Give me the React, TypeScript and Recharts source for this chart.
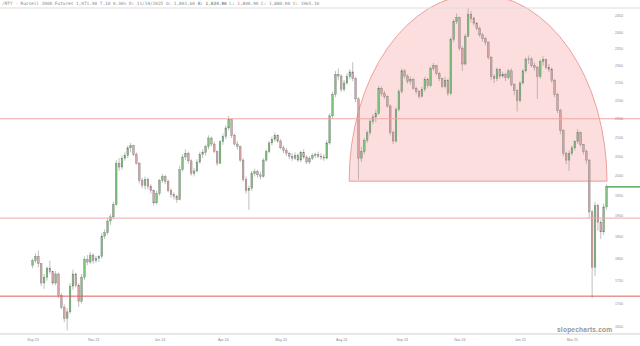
import React from "react";
import { ComposedChart, Bar, XAxis, YAxis, ReferenceLine, ReferenceArea } from "recharts";

// /RTY daily candles, sampled every other session (Sep 2023 - Apr 2025)
const opens = [
  1785, 1795, 1805, 1788, 1745, 1758, 1778, 1770, 1745, 1765,
  1718, 1692, 1668, 1682, 1738, 1765, 1740, 1705, 1758, 1798,
  1792, 1808, 1795, 1800, 1805, 1852, 1860, 1888, 1898, 1928,
  2032, 2022, 2045, 2052, 2072, 2078, 2055, 2032, 1988, 1975,
  1990, 1972, 1962, 1932, 1955, 1988, 1998, 1985, 1962, 1952,
  1948, 1940, 2015, 2048, 2058, 2038, 2005, 2012, 2035, 2055,
  2060, 2075, 2098, 2082, 2062, 2032, 2088, 2102, 2125, 2148,
  2105, 2082, 2075, 2040, 1990, 1962, 1968, 2005, 2010, 2002,
  1998, 2040, 2062, 2085, 2095, 2105, 2090, 2072, 2065, 2058,
  2050, 2045, 2052, 2040, 2060, 2048, 2035, 2045, 2052, 2055,
  2050, 2048, 2045, 2085, 2158, 2218, 2275, 2270, 2232, 2250,
  2268, 2282, 2262, 2205, 2045, 2062, 2092, 2112, 2142, 2155,
  2165, 2235, 2220, 2212, 2185, 2112, 2090, 2175, 2225, 2285,
  2270, 2255, 2260, 2235, 2225, 2212, 2232, 2260, 2242, 2292,
  2300, 2278, 2262, 2240, 2258, 2220, 2378, 2432, 2445, 2352,
  2305, 2388, 2455, 2442, 2428, 2412, 2392, 2380, 2370, 2325,
  2268, 2262, 2288, 2270, 2275, 2265, 2285, 2245, 2228, 2200,
  2250, 2285, 2318, 2320, 2300, 2295, 2268, 2312, 2318, 2295,
  2290, 2258, 2218, 2172, 2118, 2058, 2040, 2058, 2072, 2088,
  2112, 2080, 2062, 2040, 1910, 1780, 1925, 1885, 1862, 1922,
];
const highs = [
  1800, 1812, 1818, 1790, 1765, 1782, 1795, 1772, 1772, 1768,
  1722, 1698, 1690, 1745, 1775, 1768, 1745, 1765, 1805, 1808,
  1815, 1812, 1806, 1808, 1860, 1868, 1895, 1905, 1935, 2040,
  2045, 2052, 2060, 2078, 2085, 2080, 2060, 2035, 1995, 1998,
  1995, 1978, 1965, 1962, 1992, 2005, 2002, 1990, 1968, 1958,
  1952, 2025, 2055, 2068, 2062, 2042, 2020, 2042, 2062, 2068,
  2080, 2105, 2102, 2088, 2065, 2092, 2110, 2132, 2158, 2150,
  2110, 2090, 2078, 2045, 1998, 1975, 2012, 2018, 2015, 2010,
  2045, 2068, 2090, 2102, 2112, 2108, 2095, 2078, 2072, 2062,
  2058, 2060, 2058, 2065, 2068, 2052, 2050, 2058, 2060, 2062,
  2058, 2055, 2092, 2165, 2225, 2285, 2292, 2275, 2258, 2278,
  2290, 2310, 2268, 2210, 2075, 2098, 2118, 2148, 2162, 2175,
  2242, 2240, 2228, 2215, 2190, 2118, 2182, 2232, 2292, 2290,
  2275, 2268, 2265, 2240, 2230, 2240, 2268, 2265, 2298, 2308,
  2302, 2282, 2265, 2268, 2262, 2385, 2440, 2458, 2448, 2358,
  2395, 2475, 2465, 2448, 2432, 2418, 2398, 2385, 2372, 2328,
  2275, 2295, 2292, 2282, 2280, 2290, 2292, 2250, 2232, 2255,
  2290, 2325, 2330, 2325, 2310, 2300, 2318, 2328, 2320, 2305,
  2295, 2262, 2222, 2178, 2122, 2062, 2065, 2078, 2092, 2122,
  2115, 2082, 2068, 2042, 1915, 1935, 1930, 1892, 1930, 1978,
];
const lows = [
  1778, 1790, 1780, 1738, 1732, 1750, 1765, 1740, 1740, 1712,
  1688, 1660, 1643, 1678, 1730, 1735, 1693, 1700, 1752, 1785,
  1788, 1788, 1790, 1792, 1800, 1845, 1855, 1878, 1892, 1925,
  2012, 2015, 2038, 2045, 2060, 2050, 2028, 1980, 1968, 1965,
  1965, 1955, 1925, 1928, 1950, 1982, 1978, 1958, 1945, 1940,
  1932, 1938, 2010, 2040, 2030, 2000, 1998, 2008, 2030, 2045,
  2052, 2068, 2075, 2058, 2025, 2030, 2080, 2095, 2118, 2098,
  2078, 2068, 2035, 1985, 1955, 1915, 1962, 1998, 1995, 1990,
  1995, 2035, 2058, 2078, 2088, 2085, 2068, 2058, 2050, 2042,
  2038, 2040, 2035, 2035, 2042, 2030, 2030, 2040, 2045, 2045,
  2040, 2038, 2042, 2080, 2150, 2210, 2258, 2225, 2225, 2245,
  2260, 2255, 2195, 1990, 2035, 2055, 2085, 2105, 2135, 2140,
  2160, 2212, 2205, 2180, 2105, 2082, 2085, 2170, 2220, 2262,
  2248, 2245, 2230, 2218, 2205, 2208, 2225, 2235, 2238, 2285,
  2272, 2255, 2235, 2235, 2212, 2215, 2370, 2425, 2345, 2285,
  2300, 2385, 2430, 2420, 2405, 2385, 2372, 2360, 2318, 2258,
  2250, 2255, 2262, 2265, 2255, 2260, 2240, 2215, 2170, 2195,
  2245, 2280, 2305, 2295, 2285, 2205, 2262, 2300, 2290, 2282,
  2250, 2210, 2165, 2108, 2050, 2030, 2012, 2052, 2065, 2082,
  2075, 2055, 2030, 1895, 1712, 1760, 1865, 1845, 1855, 1915,
];
const closes = [
  1795, 1805, 1788, 1745, 1758, 1778, 1770, 1745, 1765, 1718,
  1692, 1668, 1682, 1738, 1765, 1740, 1705, 1758, 1798, 1792,
  1808, 1795, 1800, 1805, 1852, 1860, 1888, 1898, 1928, 2032,
  2022, 2045, 2052, 2072, 2078, 2055, 2032, 1988, 1975, 1990,
  1972, 1962, 1932, 1955, 1988, 1998, 1985, 1962, 1952, 1948,
  1940, 2015, 2048, 2058, 2038, 2005, 2012, 2035, 2055, 2060,
  2075, 2098, 2082, 2062, 2032, 2088, 2102, 2125, 2148, 2105,
  2082, 2075, 2040, 1990, 1962, 1968, 2005, 2010, 2002, 1998,
  2040, 2062, 2085, 2095, 2105, 2090, 2072, 2065, 2058, 2050,
  2045, 2052, 2040, 2060, 2048, 2035, 2045, 2052, 2055, 2050,
  2048, 2045, 2085, 2158, 2218, 2275, 2270, 2232, 2250, 2268,
  2282, 2262, 2205, 2045, 2062, 2092, 2112, 2142, 2155, 2165,
  2235, 2220, 2212, 2185, 2112, 2090, 2175, 2225, 2285, 2270,
  2255, 2260, 2235, 2225, 2212, 2232, 2260, 2242, 2292, 2300,
  2278, 2262, 2240, 2258, 2220, 2378, 2432, 2445, 2352, 2305,
  2388, 2455, 2442, 2428, 2412, 2392, 2380, 2370, 2325, 2268,
  2262, 2288, 2270, 2275, 2265, 2285, 2245, 2228, 2200, 2250,
  2285, 2318, 2320, 2300, 2295, 2268, 2312, 2318, 2295, 2290,
  2258, 2218, 2172, 2118, 2058, 2040, 2058, 2072, 2088, 2112,
  2080, 2062, 2040, 1910, 1780, 1925, 1885, 1862, 1922, 1972,
];

// x tick labels and the bar they sit under
const tickBars = [0, 21, 44, 66, 86, 107, 128, 148, 169, 187];
const tickLabels = ["Sep 23", "Nov 23", "Jan 24", "Apr 24", "May 24", "Aug 24", "Sep 24", "Nov 24", "Jan 25", "Mar 25"];
const priceTicks = [1650, 1700, 1750, 1800, 1850, 1900, 1950, 2000, 2050, 2100, 2150, 2200, 2250, 2300, 2350, 2400, 2450];

// drawn levels
const lightLevels = [2150, 1895];
const supportLevel = 1716;
const lastPrice = 1971.9;
// rounded top drawing: bar span and price span
const arcBars = [109.6, 199];
const arcPrices = [1986, 2519];

const xDomain = [-11.44, 210.44];
const yDomain = [1635.4, 2475];

const data = closes.map((c, i) => ({ i, o: opens[i], h: highs[i], l: lows[i], c }));

const Candle = (props: any) => {
  const { x, y, width, height, payload } = props;
  if (!payload || x == null || y == null) return null;
  const top = Math.min(y, y + height);
  const bot = Math.max(y, y + height);
  const { o, h, l, c } = payload;
  const span = Math.log(h) - Math.log(l) || 1;
  const py = (v: number) => top + ((Math.log(h) - Math.log(v)) / span) * (bot - top);
  const cx = x + width / 2;
  const up = c >= o;
  const bTop = py(Math.max(o, c));
  const bBot = py(Math.min(o, c));
  return (
    <g>
      <line x1={cx} x2={cx} y1={top} y2={bot} stroke="#949494" strokeWidth={0.6} />
      <rect
        x={cx - 0.85}
        y={bTop}
        width={1.7}
        height={Math.max(0.7, bBot - bTop)}
        fill={up ? "#7cc27c" : "#d8a4a4"}
        stroke="#707070"
        strokeWidth={0.35}
      />
    </g>
  );
};

const HalfDisc = (props: any) => {
  const { x, y, width, height } = props;
  if (x == null || y == null) return null;
  const left = Math.min(x, x + width);
  const w = Math.abs(width);
  const top = Math.min(y, y + height);
  const h = Math.abs(height);
  const base = top + h;
  return (
    <path
      d={`M${left},${base} A${w / 2},${h} 0 0 1 ${left + w},${base} Z`}
      fill="#f25252"
      fillOpacity={0.19}
      stroke="#e77b7b"
      strokeWidth={0.7}
    />
  );
};

const PriceTick = (props: any) => {
  const { y, payload } = props;
  return (
    <text x={619} y={y} dy={1.3} textAnchor="middle" fontSize={3.6} fill="#8a8a8a">
      {payload.value}
    </text>
  );
};

export default function App() {
  return (
    <div style={{ position: "relative", width: 640, height: 346, background: "#fff", fontFamily: "'Liberation Sans', Arial, sans-serif" }}>
      <style>{`body{margin:0}`}</style>
      <div
        style={{
          position: "absolute",
          left: 2,
          top: 1,
          fontFamily: "'DejaVu Sans Mono', monospace",
          fontSize: 4.4,
          color: "#8a8a8a",
          whiteSpace: "pre",
          lineHeight: "6px",
        }}
      >
        /RTY - Russell 2000 Futures 1,971.90 7.10 0.36% D: 11/19/2025 O: 1,891.60 <b>H: 1,834.90</b> L: 1,800.90 C: 1,880.90 V: 1965.10
      </div>
      <ComposedChart width={640} height={346} data={data} margin={{ top: 8, right: 0, bottom: 0, left: 0 }}>
        <XAxis
          dataKey="i"
          type="number"
          domain={xDomain}
          allowDataOverflow
          ticks={tickBars}
          interval={0}
          tickFormatter={(v: number) => tickLabels[tickBars.indexOf(v)] ?? ""}
          height={12}
          tickSize={0}
          tickMargin={4}
          tickLine={false}
          axisLine={{ stroke: "#cfcfcf" }}
          tick={{ fontSize: 3.6, fill: "#8a8a8a" }}
        />
        <YAxis
          orientation="right"
          mirror
          scale="log"
          domain={yDomain}
          allowDataOverflow
          ticks={priceTicks}
          interval={0}
          axisLine={false}
          tickLine={false}
          tick={<PriceTick />}
        />
        <ReferenceArea
          x1={arcBars[0]}
          x2={arcBars[1]}
          y1={arcPrices[0]}
          y2={arcPrices[1]}
          ifOverflow="hidden"
          shape={(p: any) => <HalfDisc {...p} />}
        />
        <ReferenceLine y={yDomain[1]} stroke="#dcdcdc" />
        {lightLevels.map((v) => (
          <ReferenceLine key={v} y={v} stroke="#f0a6a6" />
        ))}
        <ReferenceLine y={supportLevel} stroke="#de5c5c" />
        <Bar
          dataKey={(d: any) => [d.l, d.h]}
          barSize={2}
          shape={(p: any) => <Candle {...p} />}
          isAnimationActive={false}
        />
        <ReferenceLine
          segment={[
            { x: arcBars[1], y: lastPrice },
            { x: xDomain[1], y: lastPrice },
          ]}
          stroke="#3a963a"
          strokeWidth={1.2}
        />
      </ComposedChart>
      <div
        style={{
          position: "absolute",
          left: 557,
          top: 326,
          fontSize: 6.6,
          fontWeight: "bold",
          color: "#969696",
          letterSpacing: 0.2,
        }}
      >
        slopecharts.com
      </div>
    </div>
  );
}
